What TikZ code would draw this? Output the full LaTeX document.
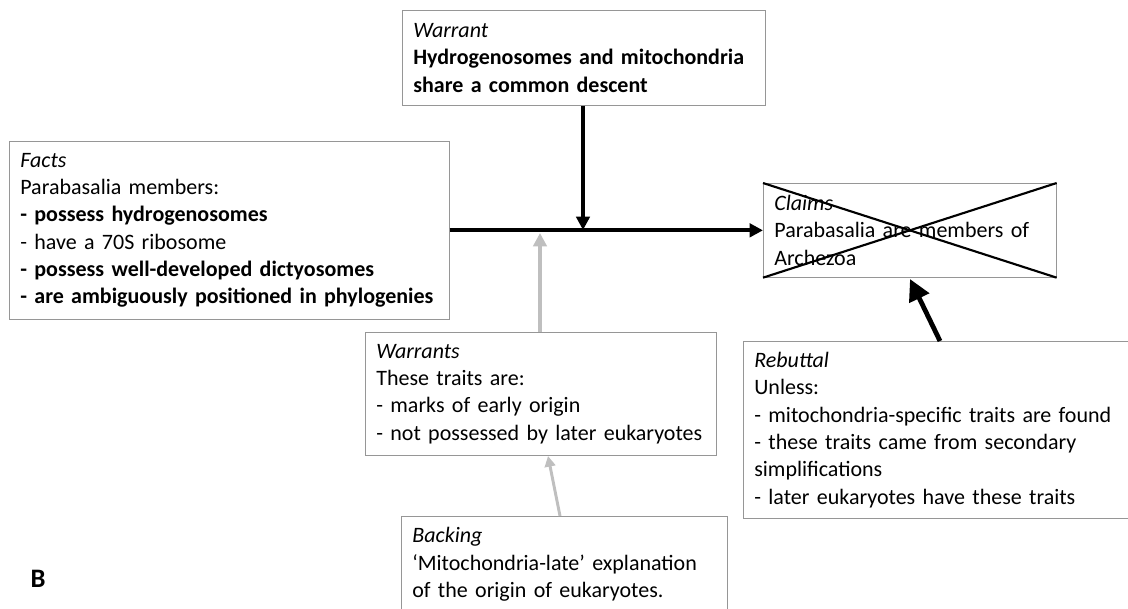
\documentclass[tikz,border=0pt]{standalone}
\usepackage{fontspec}
\setmainfont{Carlito}
\usetikzlibrary{arrows.meta}
\definecolor{framegray}{RGB}{150,150,150}
\definecolor{lightarrow}{RGB}{191,191,191}
\tikzset{
  textbox/.style={draw=framegray, line width=0.5pt, rectangle, anchor=north west,
    inner xsep=8.25pt, inner ysep=0pt, align=left,
    font=\fontsize{16.5}{20.5}\selectfont},
  mainarrow/.style={line width=3pt, -{Triangle[length=10pt,width=10pt]}},
  softarrow/.style={line width=3pt, lightarrow, -{Triangle[length=10pt,width=10pt]}},
  thinsoft/.style={line width=2.2pt, lightarrow, -{Triangle[length=8pt,width=8pt]}},
  rebutarrow/.style={line width=3.6pt, -{Triangle[length=16pt,width=16pt]}},
  crossline/.style={line width=1.6pt},
}
\begin{document}
\begin{tikzpicture}[x=0.75pt, y=-0.75pt]
\useasboundingbox (0,0) rectangle (1128,608);

% statement boxes
\node[textbox, text width=255.75pt, minimum height=71.25pt] (warrant) at (402,10)
  {\textit{Warrant}\\\textbf{Hydrogenosomes and mitochondria}\\\textbf{share a common descent}};
\node[textbox, text width=313.5pt, minimum height=133.5pt] (facts) at (9,141)
  {\textit{Facts}\\Parabasalia members:\\\textbf{- possess hydrogenosomes}\\- have a 70S ribosome\\\textbf{- possess well-developed dictyosomes}\\\textbf{- are ambiguously positioned in phylogenies}};
\node[textbox, text width=203.25pt, minimum height=70.5pt] (claims) at (763,183)
  {\textit{Claims}\\Parabasalia are members of\\Archezoa};
\node[textbox, text width=246.75pt, minimum height=92.25pt] (warrants) at (365,332)
  {\textit{Warrants}\\These traits are:\\- marks of early origin\\- not possessed by later eukaryotes};
\node[textbox, text width=300pt, minimum height=132.75pt] (rebuttal) at (743,341)
  {\textit{Rebuttal}\\Unless:\\- mitochondria-specific traits are found\\- these traits came from secondary\\simplifications\\- later eukaryotes have these traits};
\node[textbox, text width=228pt, minimum height=72pt] (backing) at (401,516)
  {\textit{Backing}\\‘Mitochondria-late’ explanation\\of the origin of eukaryotes.};

% the claim is crossed out
\draw[crossline] (claims.north west) -- (claims.south east);
\draw[crossline] (claims.south west) -- (claims.north east);

% panel letter
\node[font=\fontsize{20}{24}\selectfont\bfseries] (panel) at (38,579) {B};

% connectors
\coordinate (wfoot) at (583,230);
\coordinate (gfoot) at (540,233);
\coordinate (gstart) at (540,332);
\coordinate (bstart) at (560,516);
\coordinate (bend) at (548,456);
\coordinate (rstart) at (940,341);
\coordinate (rend) at (910,279);

\draw[mainarrow] (facts.east) -- (claims.west);
\draw[mainarrow] (warrant.south -| wfoot) -- (wfoot);
\draw[softarrow] (gstart) -- (gfoot);
\draw[thinsoft] (bstart) -- (bend);
\draw[rebutarrow] (rstart) -- (rend);
\end{tikzpicture}
\end{document}
